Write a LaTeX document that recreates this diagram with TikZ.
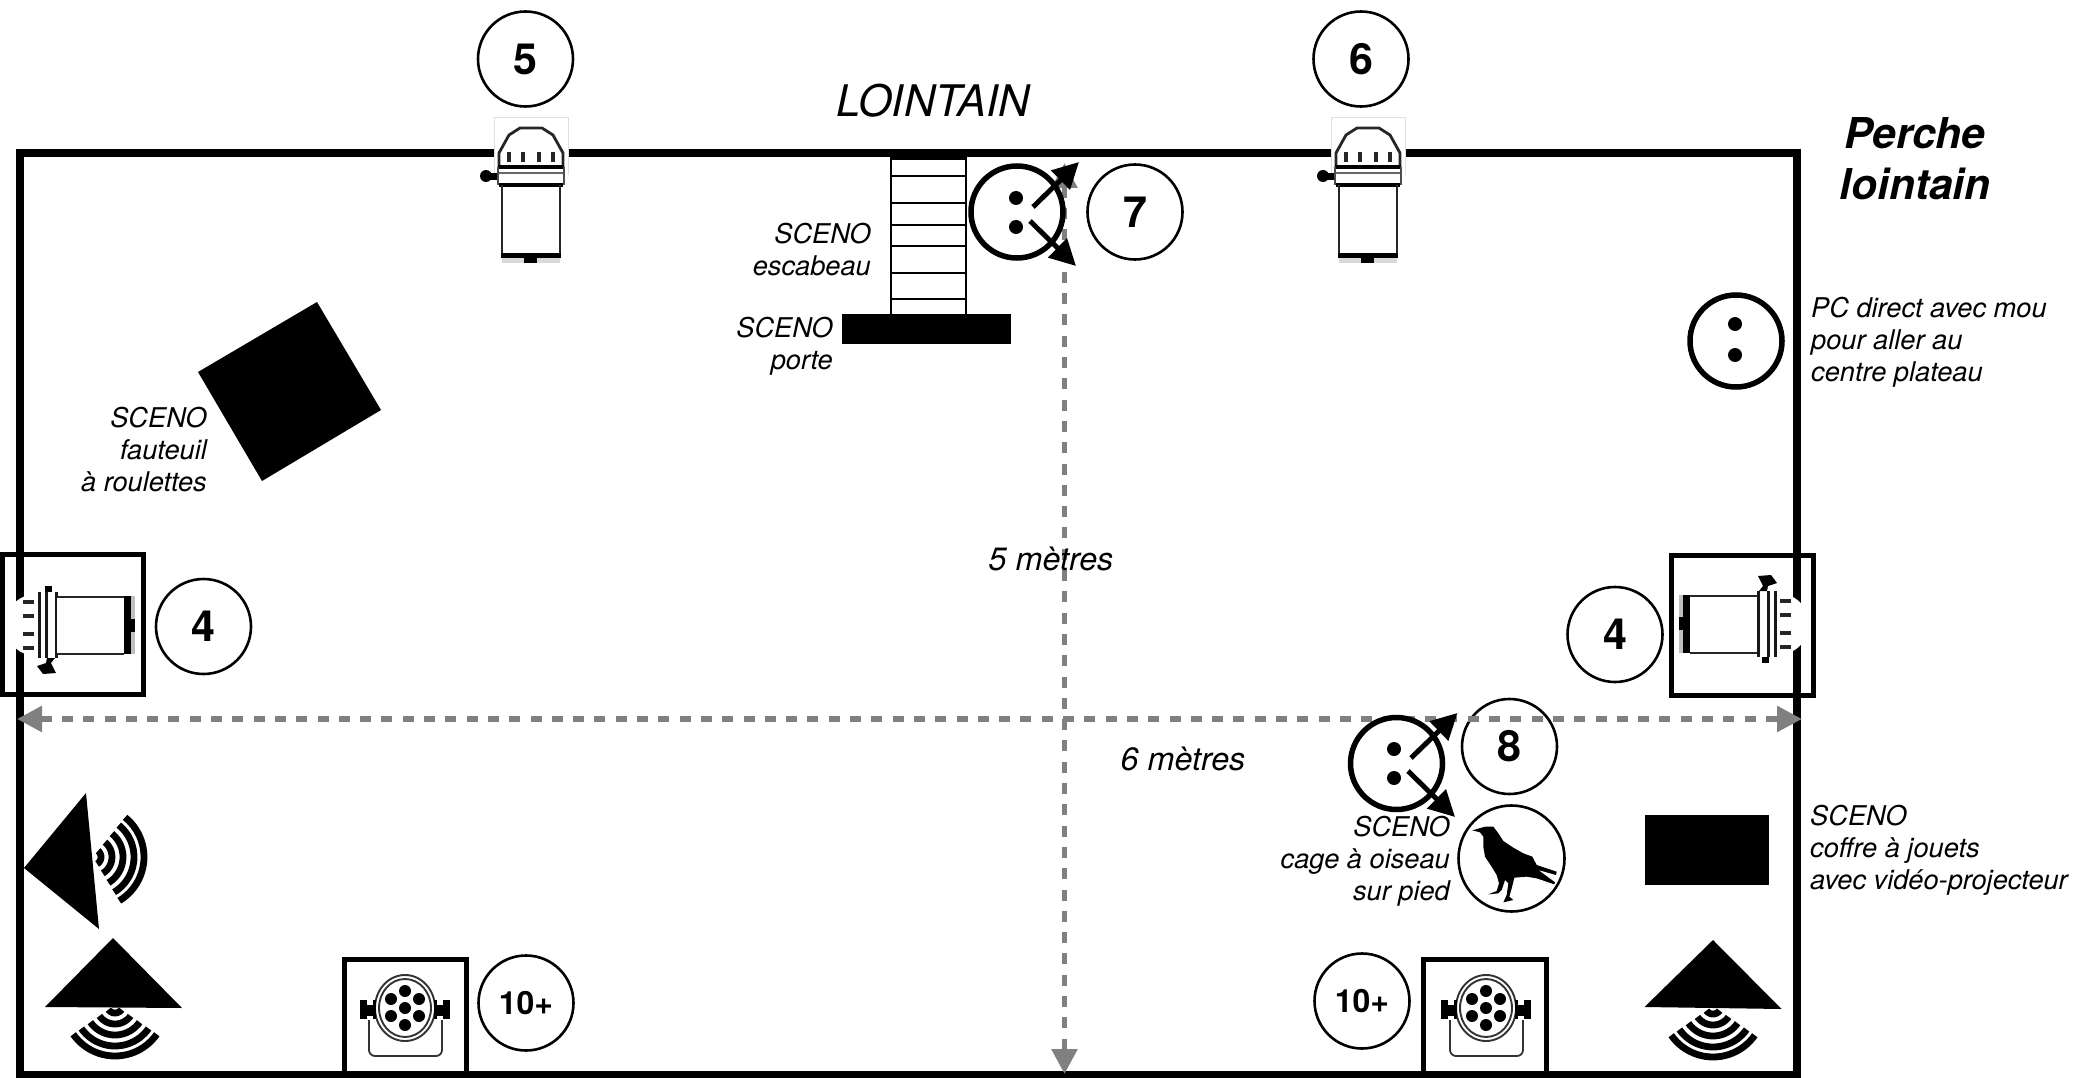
\documentclass[tikz,border=0pt]{standalone}
\usepackage{fontspec}
\setmainfont{TeX Gyre Heros}
\usetikzlibrary{arrows.meta,shapes.geometric}
\definecolor{dashgray}{HTML}{808080}
\tikzset{
  x=1pt,y=-1pt,
  num/.style={circle,draw=black,fill=white,line width=2.6pt,minimum size=95pt,inner sep=0pt,font=\fontsize{43}{43}\selectfont\bfseries},
  numsmall/.style={num,font=\fontsize{32}{32}\selectfont\bfseries},
  xlr/.style={circle,draw=black,fill=white,line width=5.5pt,minimum size=92pt,inner sep=0pt},
  pin/.style={circle,fill=black,minimum size=14pt,inner sep=0pt},
  xarrow/.style={line width=5pt,black,-{Triangle[length=26pt,width=26pt]}},
  measure/.style={line width=5.6pt,dashgray,dash pattern=on 11pt off 10.3pt,{Triangle[length=25pt,width=25pt]}-{Triangle[length=25pt,width=25pt]}},
  note/.style={inner sep=0pt,font=\fontsize{27.2}{32}\selectfont\itshape},
  bignote/.style={inner sep=0pt,font=\fontsize{32.3}{38}\selectfont\itshape},
  frame/.style={draw=black,line width=5pt},
  solid shape/.style={fill=black,draw=none},
  sidelamp/.pic={
    \fill[white] (-32,-31) .. controls (-12,-31) and (0,-15) .. (0,0) .. controls (0,15) and (-12,31) .. (-32,31) -- cycle;
    \foreach \t in {-23,-9,9,23} \draw[line width=3.4pt,black!85] (-29,\t) -- (-18,\t);
    \fill[white] (-52,-33) rectangle (-32,33);
    \foreach \t in {-51,-41,-34} \draw[line width=3pt,black!90] (\t,-33) -- (\t,33);
    \fill[white] (-119,-28.5) rectangle (-52,28.5);
    \draw[line width=2pt,black!85] (-52,-28.5) -- (-119,-28.5) (-52,28.5) -- (-119,28.5);
    \fill[black!25] (-130,-29) rectangle (-126,29);
    \fill[black] (-126,-29) rectangle (-119,29);
    \fill[black] (-130,-7) rectangle (-126,6);
    \fill[black] (-50,-33) -- (-46,-38) -- (-51,-48) -- (-38,-49) -- (-32,-41) -- (-41,-38) -- (-42,-33) -- cycle;
    \fill[black] (-47,33) rectangle (-40,39);
  },
  toplamp/.pic={
    \fill[white] (-37,0) rectangle (37,58);
    \draw[line width=.8pt,black!12] (-37,58) -- (-37,0) -- (37,0) -- (37,58);
    \fill[black] (-45,59) circle[radius=6pt];
    \fill[black] (-44,56) rectangle (-33,63);
    \draw[line width=2.8pt,black!85] (-32,50) -- (-32,36) -- (-22,18) -- (-11,11) -- (11,11) -- (22,18) -- (32,36) -- (32,50);
    \foreach \t in {-22,-8,8,22} \draw[line width=3.4pt,black!85] (\t,35) -- (\t,45);
    \draw[line width=3.4pt,black] (-33,50) -- (33,50);
    \draw[line width=2pt,black!60] (-33,56) -- (33,56);
    \draw[line width=1.4pt,black!70] (-33,50) -- (-33,68) (33,50) -- (33,68);
    \fill[white] (-29,68) rectangle (29,146);
    \draw[line width=3.4pt,black] (-32,68) -- (32,68);
    \draw[line width=2pt,black!85] (-29,68) -- (-29,137) (29,68) -- (29,137);
    \fill[black!15] (-29,141) rectangle (29,146);
    \fill[black] (-30,136) rectangle (30,141);
    \fill[black] (-7,141) rectangle (6,146);
  },
  parlamp/.pic={
    \draw[line width=1.8pt,black!80,rounded corners=6pt] (-36,12) -- (-36,48) -- (37,48) -- (37,12);
    \fill[white] (0,0) ellipse[x radius=31pt,y radius=34pt];
    \draw[line width=1.9pt,black!80] (0,0) ellipse[x radius=30pt,y radius=33pt];
    \draw[line width=1.9pt,black!80] (0,0) ellipse[x radius=26pt,y radius=29pt];
    \foreach \a/\b in {-14/-9,14/-9,-14/8,14/8,0/-17,0/17,0/0} {
      \fill[black] (\a,\b) circle[radius=6pt];
    }
    \foreach \s in {-1,1} {
      \fill[black] (\s*38,-8) rectangle (\s*45,11);
      \fill[black] (\s*32,-3) rectangle (\s*38,8);
      \fill[black] (\s*29,-8) rectangle (\s*32,11);
    }
  },
  waves/.pic={
    \foreach \r in {8,19,30,41,51} {
      \draw[line width=6.8pt,black] plot[domain=-55:55,samples=25] ({\r*cos(\x)},{\r*sin(\x)});
    }
  },
}
\begin{document}
\begin{tikzpicture}
\useasboundingbox (0,0) rectangle (2096,1078);

% frames under the stage outline
\draw[frame] (2.5,554.5) rectangle (143.5,694.5);
\draw[frame] (1671.5,555.5) rectangle (1813.5,695.5);
\draw[frame] (344.5,1076) -- (344.5,959.5) -- (466.5,959.5) -- (466.5,1076);
\draw[frame] (1423.5,1076) -- (1423.5,959.5) -- (1546.5,959.5) -- (1546.5,1076);

% stage outline
\draw[line width=7.5pt,black] (20,153) rectangle (1797,1075);

% lamps
\pic at (531,117) {toplamp};
\pic at (1368,117) {toplamp};
\pic[rotate=180] at (5,625) {sidelamp};
\pic at (1809,624) {sidelamp};
\pic at (405,1008) {parlamp};
\pic at (1486,1008) {parlamp};

% ladder, door and set pieces
\node[draw=black,line width=2.6pt,minimum width=75pt,minimum height=157pt,inner sep=0pt,anchor=north west] (ladder) at (889.5,157) {};
\foreach \t in {176,203,225,246,273,299} \draw[line width=2.6pt,black] (889.5,\t) -- (964.5,\t);
\node[solid shape,minimum width=169pt,minimum height=30pt,inner sep=0pt,anchor=north west] (door) at (842,314) {};
\fill[black] (317,302) -- (381,410) -- (262,481) -- (198,372) -- cycle;
\node[solid shape,minimum width=124pt,minimum height=70pt,inner sep=0pt,anchor=north west] (coffre) at (1645,815) {};

% speakers
\pic[rotate=-4] at (93,857) {waves};
\fill[black] (86,793) -- (24,868) -- (99,929) -- cycle;
\pic[rotate=-90] at (115,1005) {waves};
\fill[black] (113,938) -- (45,1007) -- (182,1008) -- cycle;
\pic[rotate=-90] at (1713,1006) {waves};
\fill[black] (1713,940) -- (1644.5,1007) -- (1781.5,1009) -- cycle;

% numbered circles
\node[num] (n5) at (525.5,59) {5};
\node[num] (n6) at (1361,59) {6};
\node[num] (n7) at (1135,212) {7};
\node[num] (n4l) at (203.5,626.5) {4};
\node[num] (n4r) at (1615,634.5) {4};
\node[num] (n8) at (1509.5,746.5) {8};
\node[numsmall] (n10l) at (526,1003) {10+};
\node[numsmall] (n10r) at (1362,1001) {10+};
\node[num,minimum size=106pt] (raven) at (1511.5,858.5) {};
\begin{scope}[shift={(1455,805)},scale=1/3]
\fill[black] (52,76) -- (90,65) -- (115,65) -- (130,85) -- (145,108) -- (175,128) -- (205,145) -- (232,155) -- (245,180) -- (305,200) -- (303,210) -- (250,195) -- (300,232) -- (298,238) -- (245,220) -- (215,215) -- (178,218) -- (170,250) -- (163,275) -- (175,285) -- (145,292) -- (155,270) -- (160,235) -- (150,225) -- (140,255) -- (130,265) -- (100,268) -- (125,258) -- (132,235) -- (125,210) -- (110,185) -- (90,155) -- (85,125) -- (85,95) -- (75,82) -- cycle;
\end{scope}

% measures: over the numbered circles, under the sockets
\coordinate (hl) at (17,719);
\coordinate (hr) at (1802,719);
\coordinate (vt) at (1064.5,163);
\coordinate (vb) at (1064.5,1074);
\draw[measure] (hl) -- (hr);
\draw[measure] (vt) -- (vb);

% PC socket
\node[xlr] (pc) at (1736,341) {};
\node[pin] at (1735,324) {};
\node[pin] at (1735,355) {};

% XLR 7
\node[xlr] (x7) at (1017,212) {};
\node[pin] at (1016,198) {};
\node[pin] at (1016,227) {};
\coordinate (x7a) at (1033,207);
\coordinate (x7at) at (1079,162);
\coordinate (x7b) at (1030,221);
\coordinate (x7bt) at (1076,266);
\draw[xarrow] (x7a) -- (x7at);
\draw[xarrow] (x7b) -- (x7bt);

% XLR 8
\node[xlr] (x8) at (1396.5,763.5) {};
\node[pin] at (1394,749) {};
\node[pin] at (1394,778) {};
\coordinate (x8a) at (1411,758);
\coordinate (x8at) at (1457.5,713);
\coordinate (x8b) at (1408,771);
\coordinate (x8bt) at (1455,817);
\draw[xarrow] (x8a) -- (x8at);
\draw[xarrow] (x8b) -- (x8bt);

% texts
\node[inner sep=0pt,font=\fontsize{43.5}{43.5}\selectfont\itshape] (lointain) at (933,101) {LOINTAIN};
\node[inner sep=0pt,align=center,font=\fontsize{42.5}{51}\selectfont\bfseries\itshape] (perche) at (1915,159) {Perche\\lointain};
\node[note,align=right,anchor=east] (t1) at (871,250) {SCENO\\escabeau};
\node[note,align=right,anchor=east] (t2) at (833,346) {SCENO\\porte};
\node[note,align=right,anchor=east] (t3) at (207,450) {SCENO\\fauteuil\\à roulettes};
\node[note,align=left,anchor=west] (t4) at (1811,342) {PC direct avec mou\\pour aller au\\centre plateau};
\node[note,align=left,anchor=west] (t5) at (1810,850) {SCENO\\coffre à jouets\\avec vidéo-projecteur};
\node[note,align=right,anchor=east] (t6) at (1450,861) {SCENO\\cage à oiseau\\sur pied};
\node[bignote] (t7) at (1051,559) {5 mètres};
\node[bignote] (t8) at (1183,759) {6 mètres};
\end{tikzpicture}
\end{document}
